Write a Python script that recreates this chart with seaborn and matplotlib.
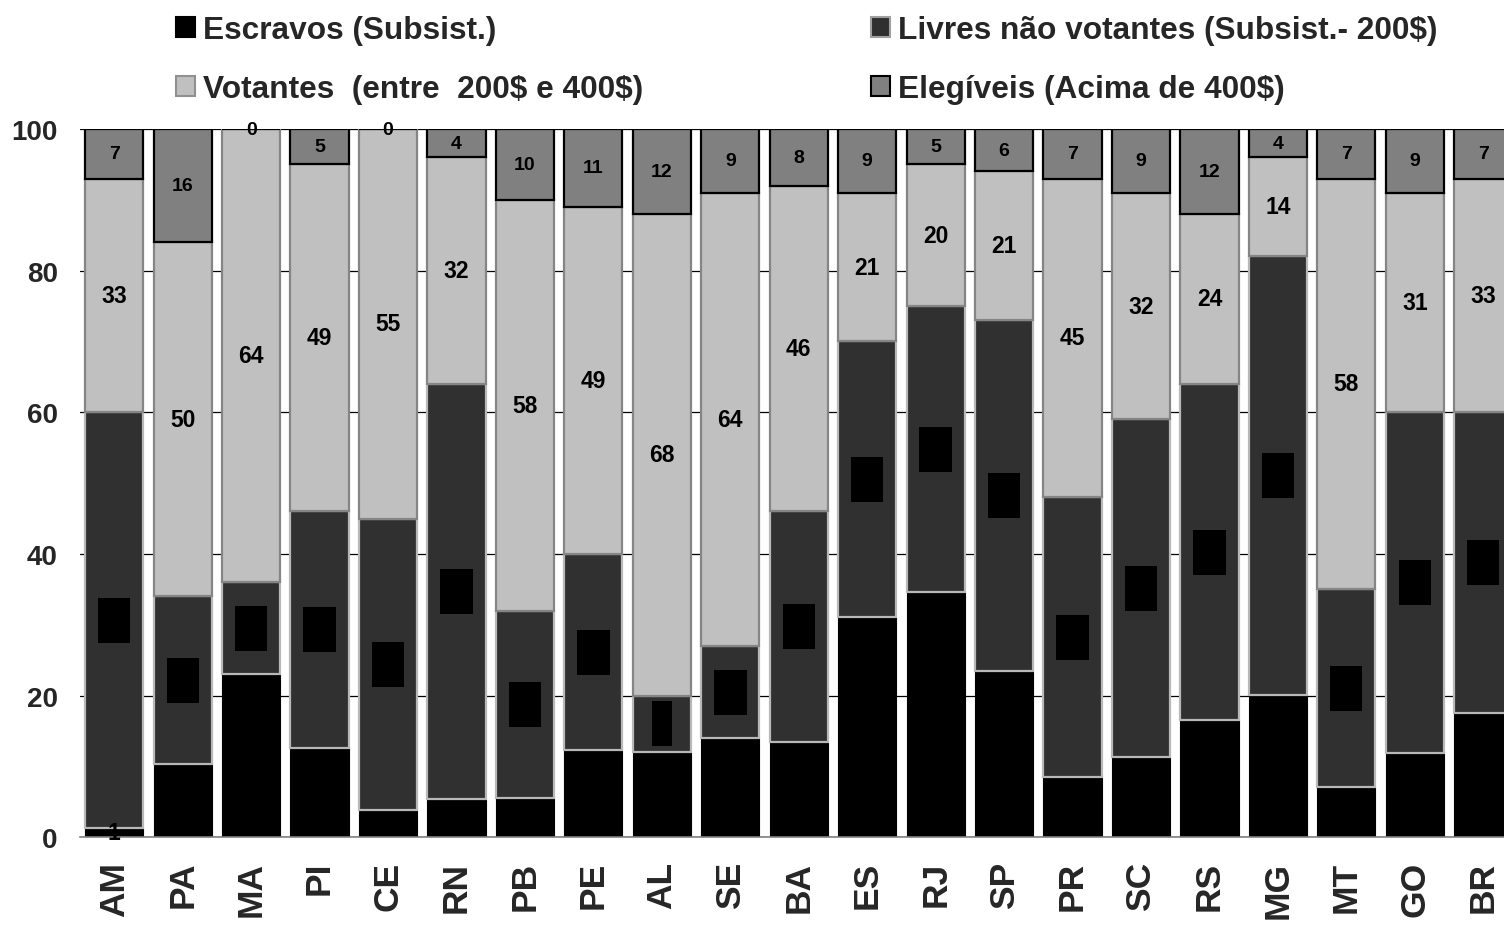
import matplotlib
matplotlib.use("Agg")
import matplotlib.pyplot as plt
from matplotlib.patches import Patch
from matplotlib.path import Path
import numpy as np
import pandas as pd
import seaborn as sns

# Províncias e composição da população (%)
estados = ["AM", "PA", "MA", "PI", "CE", "RN", "PB", "PE", "AL", "SE", "BA",
           "ES", "RJ", "SP", "PR", "SC", "RS", "MG", "MT", "GO", "BR"]
escravos = [1.3, 10.3, 23.0, 12.6, 3.8, 5.4, 5.6, 12.3, 12.1, 14.0, 13.5,
            31.1, 34.6, 23.5, 8.5, 11.3, 16.5, 20.1, 7.1, 11.9, 17.6]
livres = [58.7, 23.7, 13.0, 33.4, 41.2, 58.6, 26.4, 27.7, 7.9, 13.0, 32.5,
          38.9, 40.4, 49.5, 39.5, 47.7, 47.5, 61.9, 27.9, 48.1, 42.4]
votantes = [33, 50, 64, 49, 55, 32, 58, 49, 68, 64, 46,
            21, 20, 21, 45, 32, 24, 14, 58, 31, 33]
elegiveis = [7, 16, 0, 5, 0, 4, 10, 11, 12, 9, 8,
             9, 5, 6, 7, 9, 12, 4, 7, 9, 7]

series_names = ["Escravos (Subsist.)",
                "Livres não votantes (Subsist.- 200\\$)",
                "Votantes  (entre  200\\$ e 400\\$)",
                "Elegíveis (Acima de 400\\$)"]
y_ticks = [0, 20, 40, 60, 80, 100]

sns.set_theme(style="white")
plt.rcParams["font.family"] = ["Liberation Sans", "DejaVu Sans"]
plt.rcParams["font.weight"] = "bold"

df = pd.DataFrame({"estado": estados, "escravos": escravos, "livres": livres,
                   "votantes": votantes, "elegiveis": elegiveis})

W, H = 1504, 928
fig = plt.figure(figsize=(W / 100, H / 100), dpi=100)
ax = fig.add_axes([80 / W, (H - 838.3) / H, 1437.5 / W, 708.3 / H])

layers = [
    ("escravos", "#000000", "#000000", 0.8, 16.5),
    ("livres", "#303030", "#b8b8b8", 1.6, 16.5),
    ("votantes", "#c0c0c0", "#858585", 1.6, 16.5),
    ("elegiveis", "#808080", "#000000", 1.6, 14),
]

def tall_box(x0, y0, width, height, mutation_size):
    # label box with more vertical than horizontal padding
    px = 0.15 * mutation_size
    py = 0.48 * mutation_size
    verts = [(x0 - px, y0 - py), (x0 + width + px, y0 - py),
             (x0 + width + px, y0 + height + py), (x0 - px, y0 + height + py),
             (x0 - px, y0 - py)]
    return Path(verts, closed=True)

base = np.zeros(len(estados))
for col, face, edge, lw, fs in layers:
    vals = df[col].to_numpy(dtype=float)
    sns.barplot(data=df, x="estado", y=col, order=estados, color=face,
                saturation=1, width=0.85, edgecolor=edge, linewidth=lw,
                bottom=base, ax=ax, zorder=2)
    centers = base + vals / 2
    for i, (v, c) in enumerate(zip(vals, centers)):
        txt = f"{v:.0f}"
        if col == "livres":
            ax.text(i, c, txt, ha="center", va="center", fontsize=fs,
                    fontweight="bold", color="black", zorder=5,
                    bbox=dict(boxstyle=tall_box, facecolor="black",
                              edgecolor="none"))
        else:
            ax.text(i, c, txt, ha="center", va="center", fontsize=fs,
                    fontweight="bold", color="black", zorder=5)
    base = base + vals

ax.set_ylim(0, 100)
ax.set_xlim(-0.5, len(estados) - 0.5)
ax.set_yticks(y_ticks)
ax.set_xlabel("")
ax.set_ylabel("")
ax.yaxis.grid(True, color="black", linewidth=0.9, zorder=0)
ax.set_axisbelow(True)
for s in ["top", "right", "left"]:
    ax.spines[s].set_visible(False)
ax.spines["bottom"].set_color("#808080")
ax.spines["bottom"].set_linewidth(1.2)
ax.tick_params(axis="y", length=0, pad=16, labelsize=20)
ax.tick_params(axis="x", length=0, pad=17, labelsize=25.5, rotation=90)
for lab in ax.get_xticklabels() + ax.get_yticklabels():
    lab.set_fontweight("bold")

faces = [l[1] for l in layers]
edges = ["#000000", "#a0a0a0", "#909090", "#000000"]
handles = [Patch(facecolor=f, edgecolor=e, linewidth=1.5) for f, e in zip(faces, edges)]

leg_kw = dict(loc="upper left", frameon=False, borderpad=0,
              borderaxespad=0, handlelength=0.6, handleheight=0.6,
              handletextpad=0.25, labelspacing=0.92,
              prop={"weight": "bold", "size": 22.8})
fig.legend([handles[0], handles[2]], [series_names[0], series_names[2]],
           bbox_to_anchor=(176 / W, 1 - 16 / H), **leg_kw)
fig.legend([handles[1], handles[3]], [series_names[1], series_names[3]],
           bbox_to_anchor=(871 / W, 1 - 16 / H), **leg_kw)

fig.savefig("out.png", dpi=100)
